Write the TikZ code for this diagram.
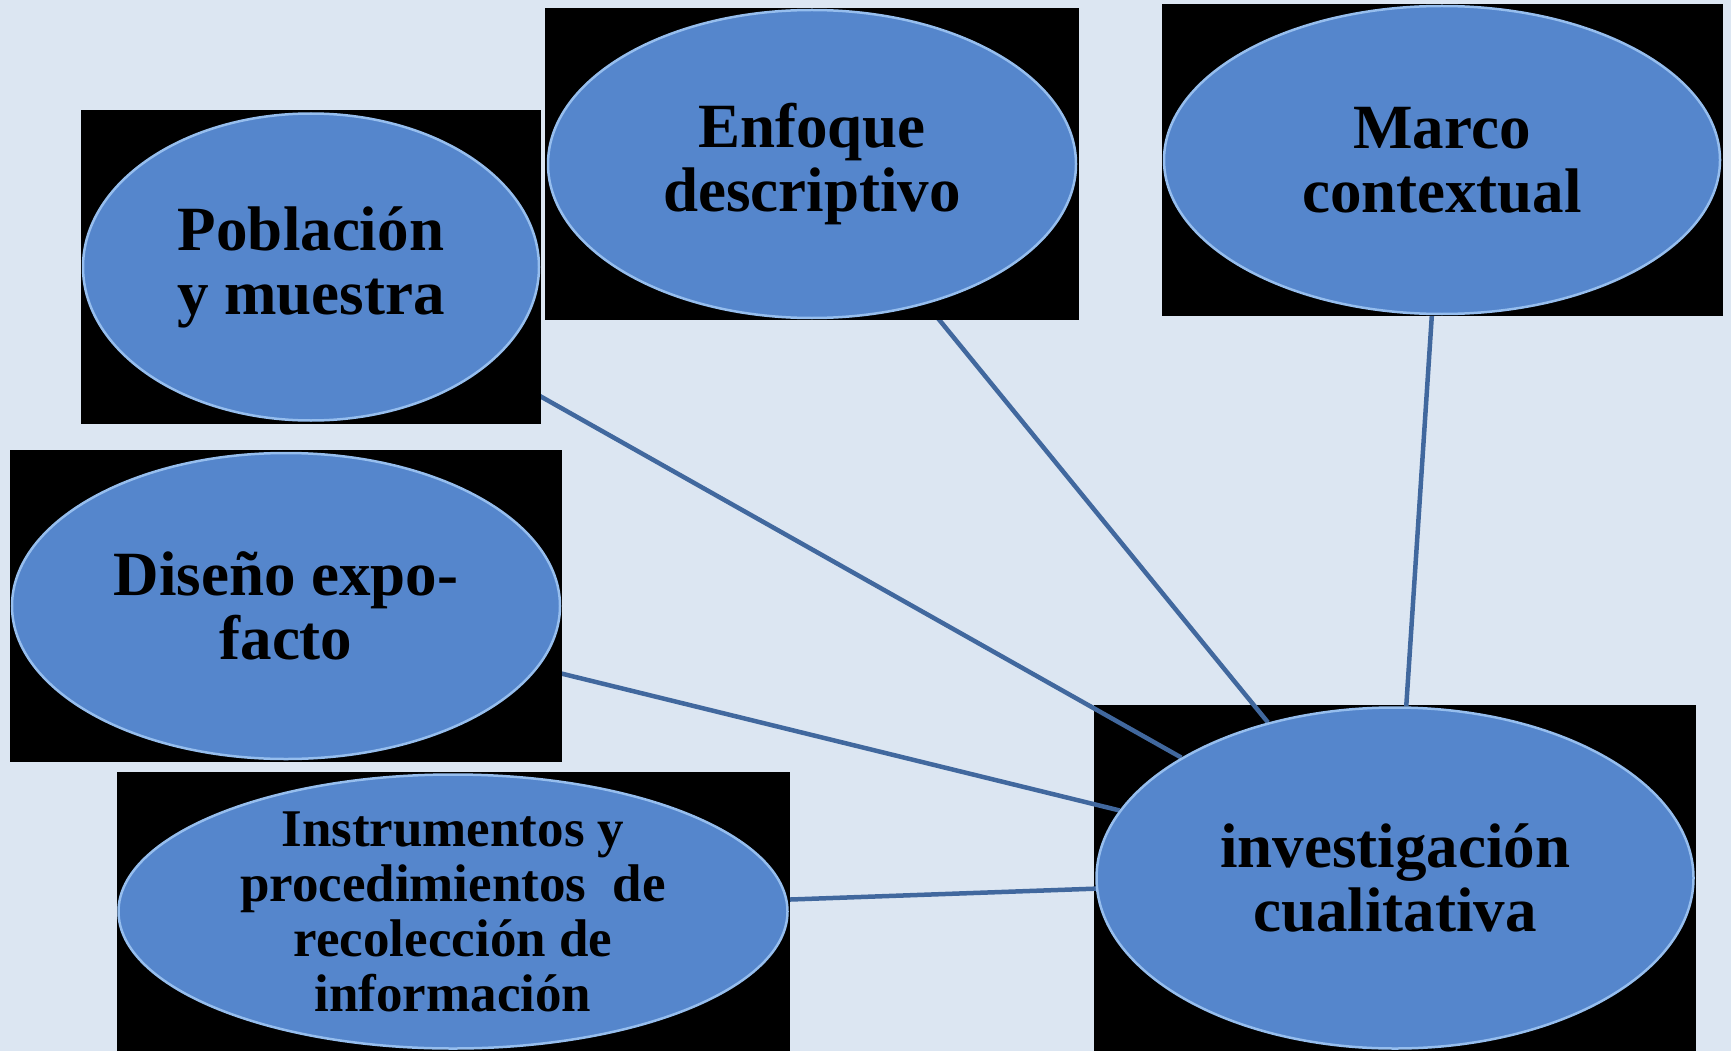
\documentclass[tikz,border=0pt]{standalone}
\usepackage{fontspec}
\setmainfont{Liberation Serif}
\usepackage{xcolor}
\usepackage{tikz}
\usetikzlibrary{positioning,shapes.geometric}
\definecolor{paper}{RGB}{220,230,242}
\definecolor{bubble}{RGB}{85,134,204}
\definecolor{rim}{RGB}{150,190,238}
\definecolor{wire}{RGB}{65,104,158}
\pgfdeclarelayer{back}
\pgfdeclarelayer{wires}
\pgfsetlayers{back,wires,main}

\begin{document}
\begin{tikzpicture}[x=1pt,y=-1pt,
  box/.style={fill=black,inner sep=0pt},
  topic/.style={ellipse,fill=bubble,draw=rim,line width=2.5pt,inner sep=0pt,align=center,
    font=\fontsize{63}{64}\selectfont\bfseries},
  link/.style={wire,line width=4.5pt}]
  \useasboundingbox (0,0) rectangle (1731,1051);
  \begin{pgfonlayer}{back}
    \fill[paper] (0,0) rectangle (1731,1051);
    \node[box,minimum width=602pt,minimum height=346pt] (invBox) at (1395,878) {};
  \end{pgfonlayer}

  \node[box,minimum width=460pt,minimum height=313pt] (pobBox) at (311,267) {};
  \node[topic,minimum width=456pt,minimum height=307pt] (pob) at (pobBox) {Población\\y muestra};
  \node[box,minimum width=534pt,minimum height=312pt] (enfBox) at (812,164) {};
  \node[topic,minimum width=528pt,minimum height=308pt] (enf) at (enfBox) {Enfoque\\descriptivo};
  \node[box,minimum width=561pt,minimum height=312pt] (marBox) at (1442,160) {};
  \node[topic,minimum width=556pt,minimum height=308pt] (mar) at (marBox) {Marco\\contextual};
  \node[box,minimum width=552pt,minimum height=312pt] (disBox) at (286,606) {};
  \node[topic,minimum width=548pt,minimum height=306pt] (dis) at (disBox) {Diseño expo-\\facto};
  \node[box,minimum width=673pt,minimum height=279pt] (insBox) at (453,911.5) {};
  \node[topic,minimum width=669pt,minimum height=274pt,inner ysep=-16pt,
    font=\fontsize{53}{55}\selectfont\bfseries] (ins) at (insBox)
    {Instrumentos y\\procedimientos~~de\\recolección de\\información};
  \node[topic,minimum width=597pt,minimum height=341pt] (inv) at (invBox) {investigación\\cualitativa};

  \begin{pgfonlayer}{wires}
    \foreach \src in {pob,enf,mar,dis,ins}
      \draw[link] (\src) -- (inv);
  \end{pgfonlayer}
\end{tikzpicture}
\end{document}
